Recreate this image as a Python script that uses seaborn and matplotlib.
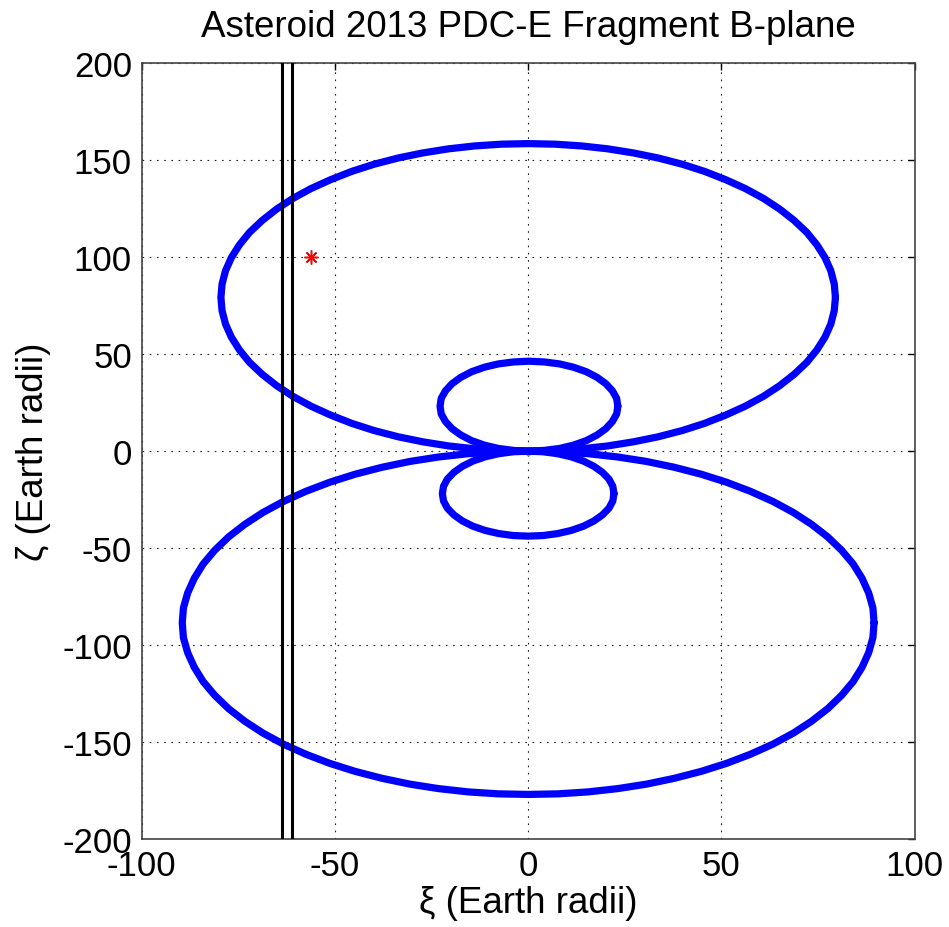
import numpy as np
import pandas as pd
import seaborn as sns
import matplotlib
matplotlib.use('Agg')
import matplotlib.pyplot as plt

# B-plane loops (Earth radii)
# big loops: one point every 5 degrees, small loops: every 10 degrees
upper_big_x = [79.5, 79.2, 78.3, 76.8, 74.7, 72.1, 68.8, 65.1, 60.9, 56.2, 51.1, 45.6,
               39.8, 33.6, 27.2, 20.6, 13.8, 6.9, 0.0, -6.9, -13.8, -20.6, -27.2, -33.6,
               -39.8, -45.6, -51.1, -56.2, -60.9, -65.1, -68.8, -72.1, -74.7, -76.8, -78.3, -79.2,
               -79.5, -79.2, -78.3, -76.8, -74.7, -72.1, -68.8, -65.1, -60.9, -56.2, -51.1, -45.6,
               -39.8, -33.6, -27.2, -20.6, -13.8, -6.9, 0.0, 6.9, 13.8, 20.6, 27.2, 33.6,
               39.8, 45.6, 51.1, 56.2, 60.9, 65.1, 68.8, 72.1, 74.7, 76.8, 78.3, 79.2]
upper_big_y = [79.3, 86.2, 93.1, 99.8, 106.4, 112.8, 119.0, 124.8, 130.3, 135.4, 140.0, 144.3,
               148.0, 151.2, 153.8, 155.9, 157.4, 158.3, 158.6, 158.3, 157.4, 155.9, 153.8, 151.2,
               148.0, 144.3, 140.0, 135.4, 130.3, 124.8, 119.0, 112.8, 106.4, 99.8, 93.1, 86.2,
               79.3, 72.4, 65.5, 58.8, 52.2, 45.8, 39.6, 33.8, 28.3, 23.2, 18.6, 14.3,
               10.6, 7.4, 4.8, 2.7, 1.2, 0.3, 0.0, 0.3, 1.2, 2.7, 4.8, 7.4,
               10.6, 14.3, 18.6, 23.2, 28.3, 33.8, 39.6, 45.8, 52.2, 58.8, 65.5, 72.4]

lower_big_x = [89.5, 89.2, 88.1, 86.4, 84.1, 81.1, 77.5, 73.3, 68.6, 63.3, 57.5, 51.3,
               44.8, 37.8, 30.6, 23.2, 15.5, 7.8, 0.0, -7.8, -15.5, -23.2, -30.6, -37.8,
               -44.8, -51.3, -57.5, -63.3, -68.6, -73.3, -77.5, -81.1, -84.1, -86.4, -88.1, -89.2,
               -89.5, -89.2, -88.1, -86.4, -84.1, -81.1, -77.5, -73.3, -68.6, -63.3, -57.5, -51.3,
               -44.8, -37.8, -30.6, -23.2, -15.5, -7.8, 0.0, 7.8, 15.5, 23.2, 30.6, 37.8,
               44.8, 51.3, 57.5, 63.3, 68.6, 73.3, 77.5, 81.1, 84.1, 86.4, 88.1, 89.2]
lower_big_y = [-88.5, -80.8, -73.1, -65.6, -58.2, -51.1, -44.2, -37.7, -31.6, -25.9, -20.7, -16.0,
               -11.9, -8.3, -5.3, -3.0, -1.3, -0.3, 0.0, -0.3, -1.3, -3.0, -5.3, -8.3,
               -11.9, -16.0, -20.7, -25.9, -31.6, -37.7, -44.2, -51.1, -58.2, -65.6, -73.1, -80.8,
               -88.5, -96.2, -103.9, -111.4, -118.8, -125.9, -132.8, -139.3, -145.4, -151.1, -156.3, -161.0,
               -165.1, -168.7, -171.7, -174.0, -175.7, -176.7, -177.0, -176.7, -175.7, -174.0, -171.7, -168.7,
               -165.1, -161.0, -156.3, -151.1, -145.4, -139.3, -132.8, -125.9, -118.8, -111.4, -103.9, -96.2]

upper_small_x = [23.2, 22.9, 21.8, 20.1, 17.8, 15.0, 11.7, 8.1, 4.2, 0.2, -3.8, -7.7,
                 -11.3, -14.6, -17.4, -19.7, -21.4, -22.5, -22.8, -22.5, -21.4, -19.7, -17.4, -14.6,
                 -11.3, -7.7, -3.8, 0.2, 4.2, 8.1, 11.7, 15.0, 17.8, 20.1, 21.8, 22.9]
upper_small_y = [23.2, 27.2, 31.1, 34.8, 38.1, 41.0, 43.3, 45.0, 46.0, 46.4, 46.0, 45.0,
                 43.3, 41.0, 38.1, 34.8, 31.1, 27.2, 23.2, 19.2, 15.3, 11.6, 8.3, 5.4,
                 3.1, 1.4, 0.4, 0.0, 0.4, 1.4, 3.1, 5.4, 8.3, 11.6, 15.3, 19.2]

lower_small_x = [22.2, 21.9, 20.9, 19.2, 17.0, 14.3, 11.1, 7.6, 3.9, 0.0, -3.9, -7.6,
                 -11.1, -14.3, -17.0, -19.2, -20.9, -21.9, -22.2, -21.9, -20.9, -19.2, -17.0, -14.3,
                 -11.1, -7.6, -3.9, 0.0, 3.9, 7.6, 11.1, 14.3, 17.0, 19.2, 20.9, 21.9]
lower_small_y = [-21.9, -18.1, -14.4, -10.9, -7.8, -5.1, -2.9, -1.3, -0.3, 0.0, -0.3, -1.3,
                 -2.9, -5.1, -7.8, -10.9, -14.4, -18.1, -21.9, -25.7, -29.4, -32.9, -36.0, -38.7,
                 -40.9, -42.5, -43.5, -43.8, -43.5, -42.5, -40.9, -38.7, -36.0, -32.9, -29.4, -25.7]

# vertical boundary lines and the marked point
boundary_x = [-63.7, -61.2]
target_x, target_y = -56.3, 100.0
earth_x, earth_y = 0.0, -1.0

loops = {
    'upper_big': (upper_big_x, upper_big_y),
    'lower_big': (lower_big_x, lower_big_y),
    'upper_small': (upper_small_x, upper_small_y),
    'lower_small': (lower_small_x, lower_small_y),
}

rows = []
for name, (xs, ys) in loops.items():
    # close each loop by repeating its first point
    for i, (x, y) in enumerate(list(zip(xs, ys)) + [(xs[0], ys[0])]):
        rows.append({'loop': name, 'order': i, 'xi': x, 'zeta': y})
df = pd.DataFrame(rows)

sns.set_style('white')
plt.rcParams['font.family'] = ['Liberation Sans', 'DejaVu Sans']
plt.rcParams['axes.unicode_minus'] = False
plt.rcParams['text.color'] = 'black'
plt.rcParams['axes.labelcolor'] = 'black'

fig = plt.figure(figsize=(9.49, 9.28), dpi=100)
ax = fig.add_axes([0.1493, 0.0948, 0.8145, 0.8359])

ax.plot(earth_x, earth_y, '.', color='#00ff00', ms=6, zorder=1)
sns.lineplot(data=df, x='xi', y='zeta', units='loop', estimator=None, sort=False,
             color='blue', lw=5.2, solid_joinstyle='round', solid_capstyle='round',
             ax=ax, zorder=2)
for bx in boundary_x:
    ax.axvline(bx, color='black', lw=2.2, zorder=3)
ax.plot(target_x, target_y, marker=(8, 2, 0), color='red', ms=10, mew=1.1, zorder=4)

ax.set_xlim(-100, 100)
ax.set_ylim(-200, 200)
ax.set_xticks(np.arange(-100, 101, 50))
ax.set_yticks(np.arange(-200, 201, 50))
ax.grid(True, color='#222222', linestyle=(0, (1.5, 5)), lw=0.8)
ax.tick_params(direction='in', length=5, width=1, colors='black', labelsize=25,
               top=True, right=True, pad=7)
for s in ax.spines.values():
    s.set_color('#444444')
    s.set_linewidth(1.2)

ax.set_title('Asteroid 2013 PDC-E Fragment B-plane', fontsize=26.5, pad=20)
ax.set_xlabel('ξ (Earth radii)', fontsize=26.5, labelpad=2)
ax.set_ylabel('ζ (Earth radii)', fontsize=26.5, labelpad=8)

fig.savefig('out.png', dpi=100, facecolor='white')
